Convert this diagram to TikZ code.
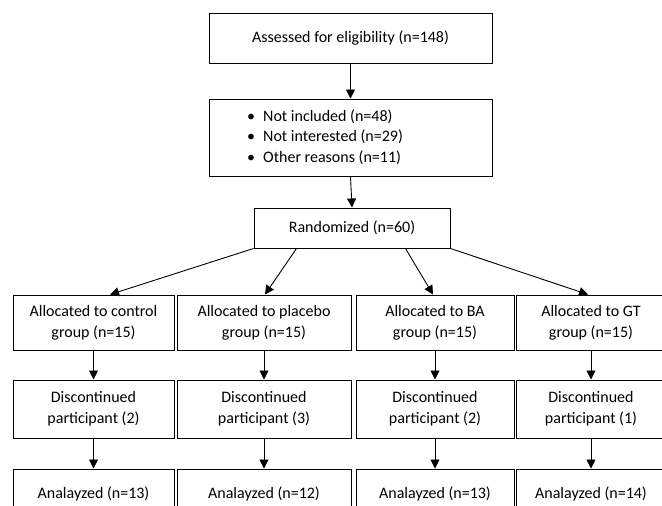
\documentclass[tikz,border=0pt]{standalone}
\usepackage{fontspec}
\setmainfont{Carlito}
\usetikzlibrary{arrows.meta,calc}
\begin{document}
\begin{tikzpicture}[x=1pt,y=-1pt,
  box/.style={draw=black,line width=1pt,rectangle,align=center,inner sep=0pt,
    font=\fontsize{16}{21}\selectfont},
  arr/.style={line width=0.9pt,-{Triangle[length=9pt,width=9pt]}}]
\useasboundingbox (0,0) rectangle (662,506);
\clip (0,0) rectangle (662,506);
\fill[white] (0,0) rectangle (662,506);
% top
\node[box,minimum width=283pt,minimum height=50pt] (t) at (350.5,38) {Assessed for eligibility (n=148)};
\node[box,minimum width=283pt,minimum height=77pt] (ex) at (350.5,137.5) {};
\node[anchor=west,align=left,inner sep=0pt,font=\fontsize{16}{20.5}\selectfont] (exl) at (247,137) {%
\makebox[16pt][l]{\textbullet}Not included (n=48)\\
\makebox[16pt][l]{\textbullet}Not interested (n=29)\\
\makebox[16pt][l]{\textbullet}Other reasons (n=11)};
\node[box,minimum width=196pt,minimum height=40pt] (r) at (352,228) {Randomized (n=60)};
% row 1
\node[box,minimum width=161pt,minimum height=55pt] (a1) at (93.5,322.5) {Allocated to control\\group (n=15)};
\node[box,minimum width=174pt,minimum height=55pt] (a2) at (264,322.5) {Allocated to placebo\\group (n=15)};
\node[box,minimum width=158pt,minimum height=55pt] (a3) at (435,322.5) {Allocated to BA\\group (n=15)};
\node[box,minimum width=150pt,minimum height=55pt] (a4) at (591,322.5) {Allocated to GT\\group (n=15)};
% row 2
\node[box,minimum width=161pt,minimum height=58pt] (d1) at (93.5,409) {Discontinued\\participant (2)};
\node[box,minimum width=174pt,minimum height=58pt] (d2) at (264,409) {Discontinued\\participant (3)};
\node[box,minimum width=158pt,minimum height=58pt] (d3) at (435,409) {Discontinued\\participant (2)};
\node[box,minimum width=150pt,minimum height=58pt] (d4) at (591,409) {Discontinued\\participant (1)};
% row 3
\node[box,minimum width=161pt,minimum height=50pt] (n1) at (93.5,494) {Analayzed (n=13)};
\node[box,minimum width=174pt,minimum height=50pt] (n2) at (264,494) {Analayzed (n=12)};
\node[box,minimum width=158pt,minimum height=50pt] (n3) at (435,494) {Analayzed (n=13)};
\node[box,minimum width=150pt,minimum height=50pt] (n4) at (591,494) {Analayzed (n=14)};
% arrows
\draw[arr] (t.south) -- (ex.north);
\draw[arr] (ex.south) -- (r.north);
\draw[arr] (r.south west) -- ([xshift=16.5pt]a1.north);
\draw[arr] ([xshift=43pt]r.south west) -- ([xshift=1pt]a2.north);
\draw[arr] ([xshift=-45pt]r.south east) -- ([xshift=-2pt]a3.north);
\draw[arr] (r.south east) -- ([xshift=-3pt]a4.north);
\foreach \i in {1,2,3,4}{
  \draw[arr] (a\i.south) -- (d\i.north);
  \draw[arr] (d\i.south) -- (n\i.north);
}
\end{tikzpicture}
\end{document}
